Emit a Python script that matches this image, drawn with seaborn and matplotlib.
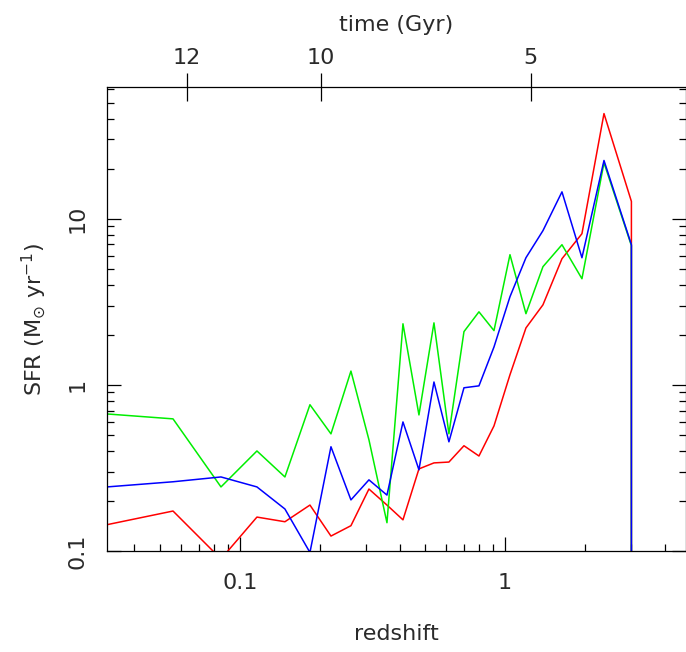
import numpy as np
import pandas as pd
import matplotlib
matplotlib.use("Agg")
import matplotlib.pyplot as plt
import matplotlib.ticker as mticker
import seaborn as sns

# ---- data ----
redshift = [0.0315, 0.0559, 0.0848, 0.1159, 0.1478, 0.1837, 0.2205, 0.2623,
            0.3067, 0.3587, 0.4122, 0.4736, 0.5396, 0.6145, 0.7003, 0.7977,
            0.9090, 1.0445, 1.200, 1.391, 1.641, 1.952, 2.364, 3.0, 3.0]
sfr_red = [0.144, 0.174, 0.0895, 0.160, 0.150, 0.189, 0.123, 0.142,
           0.236, 0.189, 0.154, 0.312, 0.339, 0.343, 0.430, 0.373,
           0.566, 1.15, 2.20, 3.03, 5.74, 8.12, 42.9, 12.7, 0.0]
sfr_green = [0.668, 0.624, 0.243, 0.400, 0.279, 0.759, 0.507, 1.21,
             0.467, 0.148, 2.33, 0.659, 2.36, 0.507, 2.09, 2.75,
             2.12, 6.07, 2.68, 5.14, 6.97, 4.35, 21.7, 6.88, 0.0]
sfr_blue = [0.243, 0.261, 0.279, 0.243, 0.179, 0.098, 0.424, 0.203,
            0.268, 0.217, 0.598, 0.308, 1.04, 0.454, 0.96, 0.986,
            1.69, 3.39, 5.82, 8.47, 14.5, 5.82, 22.4, 6.97, 0.0]
series_names = ["red", "green", "blue"]
series_colors = ["#ff0000", "#00ee00", "#0000ff"]

time_labels = ["12", "10", "5"]
time_redshift = [0.0631, 0.2021, 1.253]

x_ticklabels = ["0.1", "1"]
y_ticklabels = ["0.1", "1", "10"]

# ---- build table ----
frames = []
for name, vals in zip(series_names, [sfr_red, sfr_green, sfr_blue]):
    frames.append(pd.DataFrame({"z": redshift, "sfr": vals, "series": name}))
df = pd.concat(frames, ignore_index=True)

sns.set_theme(style="white")
plt.rcParams["font.family"] = ["DejaVu Sans"]

TXT = "#2a2a2a"
FS = 16

fig = plt.figure(figsize=(6.86, 6.52), dpi=100)
ax = fig.add_axes([107 / 686, 1 - 551 / 652, (685.5 - 107) / 686, (551 - 87) / 652])

sns.lineplot(data=df, x="z", y="sfr", hue="series", hue_order=series_names,
             palette=dict(zip(series_names, series_colors)), sort=False,
             estimator=None, legend=False, linewidth=1.1, ax=ax)

ax.set_xscale("log")
ax.set_yscale("log")
ax.set_xlim(0.0315, 4.8)
ax.set_ylim(0.1, 62)

for s in ax.spines.values():
    s.set_color("black")
    s.set_linewidth(0.9)
    s.set_visible(True)

ax.xaxis.set_major_locator(mticker.FixedLocator([0.1, 1]))
ax.xaxis.set_major_formatter(mticker.FixedFormatter(x_ticklabels))
ax.xaxis.set_minor_locator(mticker.LogLocator(base=10, subs=np.arange(2, 10)))
ax.xaxis.set_minor_formatter(mticker.NullFormatter())
ax.yaxis.set_major_locator(mticker.FixedLocator([0.1, 1, 10]))
ax.yaxis.set_major_formatter(mticker.FixedFormatter(y_ticklabels))
ax.yaxis.set_minor_locator(mticker.LogLocator(base=10, subs=np.arange(2, 10)))
ax.yaxis.set_minor_formatter(mticker.NullFormatter())

ax.tick_params(which="both", direction="in", top=False, right=True,
               bottom=True, left=True, color="black", width=0.9)
ax.tick_params(which="major", length=10, labelsize=FS, labelcolor=TXT)
ax.tick_params(which="minor", length=5)
ax.tick_params(axis="x", which="major", pad=16)
ax.tick_params(axis="y", which="major", pad=14)
for lab in ax.get_yticklabels():
    lab.set_rotation(90)
    lab.set_va("center")
    lab.set_ha("right")

ax.set_xlabel("redshift", fontsize=FS, color=TXT, labelpad=22)
ax.set_ylabel(r"SFR (M$_{\odot}$ yr$^{-1}$)", fontsize=FS, color=TXT, labelpad=14)

ax2 = ax.twiny()
ax2.set_xscale("log")
ax2.set_xlim(ax.get_xlim())
ax2.xaxis.set_major_locator(mticker.FixedLocator(time_redshift))
ax2.xaxis.set_major_formatter(mticker.FixedFormatter(time_labels))
ax2.xaxis.set_minor_locator(mticker.NullLocator())
ax2.tick_params(axis="x", direction="inout", length=20, width=0.9, color="black",
                labelsize=FS, labelcolor=TXT, pad=4)
for s in ax2.spines.values():
    s.set_visible(False)
ax2.set_xlabel("time (Gyr)", fontsize=FS, color=TXT, labelpad=12)

fig.savefig("out.png", dpi=100)
